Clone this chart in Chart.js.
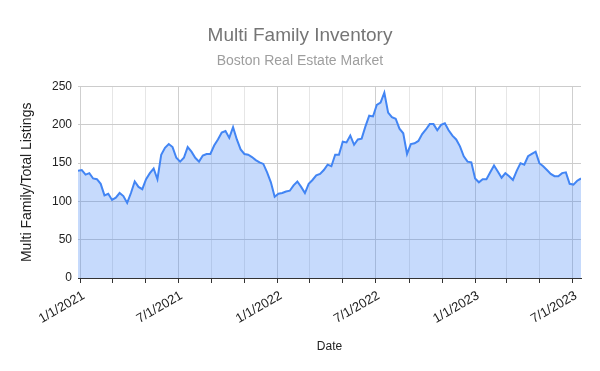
<!DOCTYPE html>
<html>
<head>
<meta charset="utf-8">
<script src="https://cdn.jsdelivr.net/npm/chart.js@4.4.1/dist/chart.umd.min.js"></script>
<style>
  body { margin: 0; background: #fff; }
  #wrap { width: 600px; height: 371px; }
</style>
</head>
<body>
<div id="wrap"><canvas id="chart"></canvas></div>
<script>
// weekly listings, first week starting 12/27/2020
const firstWeek = '2020-12-27';
const inventory = [
  140, 141, 135, 137, 130, 129, 123, 108, 110, 102, 105, 111, 107, 98, 111, 126, 119, 116, 129, 137,
  143, 129, 161, 170, 175, 171, 157, 152, 157, 171, 165, 157, 152,
  160, 162, 162, 173, 181, 190, 192, 183, 197, 181, 168, 162, 161, 158, 154, 151, 149, 138, 125, 106,
  110, 111, 113, 114, 121, 126, 119, 111, 123, 128, 134, 136,
  141, 148, 146, 161, 161, 178, 177, 186, 174, 181, 182, 198, 212, 211, 226, 229, 242, 216, 210, 208,
  195, 189, 162, 175, 176, 179, 188, 194, 201, 201, 193,
  200, 202, 193, 186, 181, 172, 159, 152, 151, 130, 125, 129, 129, 138, 147, 139, 131, 137, 133, 128,
  140, 150, 148, 159, 162, 165, 150, 146, 141, 136, 133, 133, 137, 138, 123, 122, 127, 130
];
const gridDates = ['2021-01-01', '2021-03-01', '2021-05-01', '2021-07-01', '2021-09-01', '2021-11-01',
  '2022-01-01', '2022-03-01', '2022-05-01', '2022-07-01', '2022-09-01', '2022-11-01',
  '2023-01-01', '2023-03-01', '2023-05-01', '2023-07-01'];
const xTickLabels = ['1/1/2021', '', '', '7/1/2021', '', '', '1/1/2022', '', '', '7/1/2022', '', '',
  '1/1/2023', '', '', '7/1/2023'];
const yTicks = [0, 50, 100, 150, 200, 250];

const day = s => Date.UTC(+s.slice(0, 4), +s.slice(5, 7) - 1, +s.slice(8, 10)) / 864e5;
const start = day(firstWeek);
const points = inventory.map((v, i) => ({ x: start + 7 * i, y: v }));

Chart.defaults.font.family = '"Liberation Sans", Arial, sans-serif';
Chart.defaults.color = '#222';

const ctx = document.getElementById('chart').getContext('2d');
new Chart(ctx, {
  type: 'line',
  data: {
    datasets: [{
      label: 'Multi Family/Total Listings',
      data: points,
      borderColor: '#4285f4',
      backgroundColor: 'rgba(66,133,244,0.3)',
      borderWidth: 2,
      fill: 'origin',
      pointRadius: 0,
      tension: 0
    }]
  },
  options: {
    responsive: true,
    maintainAspectRatio: false,
    animation: false,
    layout: { padding: 0 },
    scales: {
      x: {
        type: 'linear',
        min: points[0].x,
        max: points[points.length - 1].x,
        afterBuildTicks: s => { s.ticks = gridDates.map(d => ({ value: day(d) })); },
        afterFit: s => { s.height = 93; },
        ticks: {
          autoSkip: false,
          minRotation: 30,
          maxRotation: 30,
          padding: 5,
          labelOffset: 3,
          font: { size: 13 },
          color: '#222',
          callback: (v, i) => xTickLabels[i]
        },
        grid: {
          color: c => (c.index % 3 === 0 ? '#cfcfcf' : '#e6e6e6'),
          tickColor: '#333',
          tickLength: 5
        },
        border: { color: '#333', width: 1 },
        title: {
          display: true,
          text: 'Date',
          font: { size: 12 },
          color: '#222',
          padding: { top: 0, bottom: 17 }
        }
      },
      y: {
        min: 0,
        max: 250,
        afterBuildTicks: s => { s.ticks = yTicks.map(v => ({ value: v })); },
        afterFit: s => { s.width = 78; },
        ticks: { padding: 6, font: { size: 12 }, color: '#222' },
        grid: { color: '#cccccc', drawTicks: false },
        border: { display: false },
        title: {
          display: true,
          text: 'Multi Family/Total Listings',
          font: { size: 14 },
          color: '#222',
          padding: { top: 19, bottom: 0 }
        }
      },
      yRight: {
        position: 'right',
        display: true,
        afterFit: s => { s.width = 19; },
        ticks: { display: false },
        grid: { display: false },
        border: { display: false }
      }
    },
    plugins: {
      legend: { display: false },
      tooltip: { enabled: false },
      title: {
        display: true,
        text: 'Multi Family Inventory',
        color: '#757575',
        font: { size: 19, weight: 'normal' },
        padding: { top: 24, bottom: 6 }
      },
      subtitle: {
        display: true,
        text: 'Boston Real Estate Market',
        color: '#9e9e9e',
        font: { size: 14, weight: 'normal' },
        padding: { top: 0, bottom: 17 }
      }
    }
  }
});
</script>
</body>
</html>
